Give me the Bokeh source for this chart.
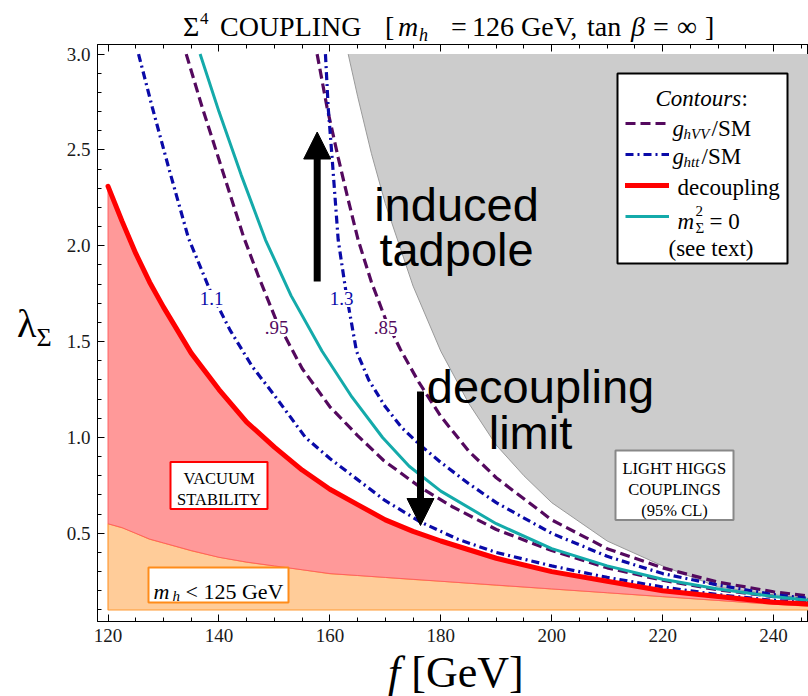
from bokeh.plotting import figure
from bokeh.layouts import column, row
from bokeh.models import (Range1d, LinearAxis, SingleIntervalTicker, Label, BoxAnnotation,
                          Arrow, NormalHead, Legend, LegendItem, PrintfTickFormatter, Div)
from bokeh.embed import file_html
from bokeh.resources import INLINE

# ---------------- data: lambda_Sigma versus f [GeV] ----------------
LAMBDA_FLOOR = 0.1
LAMBDA_CEIL = 3.0

# decoupling curve and m_h < 125 GeV boundary share one f grid
F_ST = [120, 122.5, 125, 127.5, 130, 135, 140, 145, 150, 155, 160, 165, 170, 175,
        180, 190, 200, 210, 220, 230, 240, 250]
L_DECOUPLING = [2.31, 2.13, 1.96, 1.81, 1.68, 1.44, 1.25, 1.08, 0.95, 0.83, 0.73, 0.65,
                0.57, 0.51, 0.46, 0.37, 0.30, 0.25, 0.20, 0.17, 0.14, 0.125]
L_MH125 = [0.55, 0.53, 0.50, 0.47, 0.45, 0.41, 0.375, 0.35, 0.33, 0.31, 0.29, 0.28,
           0.27, 0.26, 0.25, 0.23, 0.21, 0.19, 0.17, 0.15, 0.13, 0.115]

# light-Higgs-coupling exclusion boundary (95% CL)
F_LHC = [163.3, 165, 167.5, 170, 175, 180, 185, 190, 195, 200, 210, 220, 230, 240, 250]
L_LHC = [3.0, 2.78, 2.48, 2.22, 1.79, 1.45, 1.18, 0.96, 0.80, 0.66, 0.46, 0.33, 0.22,
         0.18, 0.15]

# g_hVV / SM contours
F_V95 = [134.1, 137, 140, 144.4, 147, 150.2, 155, 160, 165, 169.7, 176.3, 182, 190, 200,
         210, 220, 230, 240, 250]
L_V95 = [3.0, 2.72, 2.45, 2.05, 1.85, 1.62, 1.36, 1.16, 1.01, 0.88, 0.74, 0.64, 0.52,
         0.41, 0.32, 0.255, 0.205, 0.17, 0.14]
F_V85 = [157.7, 159.5, 161.5, 163.3, 165.1, 167.5, 170, 172.7, 176, 180, 185, 190, 200,
         210, 220, 230, 240, 250]
L_V85 = [3.0, 2.72, 2.46, 2.24, 2.03, 1.81, 1.62, 1.46, 1.29, 1.11, 0.93, 0.79, 0.57,
         0.42, 0.32, 0.245, 0.195, 0.16]

# g_htt / SM contours
F_T11 = [125.5, 128, 131, 134.5, 138.5, 142, 146, 150, 155.6, 160, 165, 170, 176.3, 183,
         190, 200, 210, 220, 230, 240, 250]
L_T11 = [3.0, 2.72, 2.40, 2.04, 1.76, 1.56, 1.37, 1.22, 1.0, 0.89, 0.78, 0.67, 0.56,
         0.47, 0.40, 0.33, 0.27, 0.22, 0.18, 0.15, 0.13]
F_T13 = [159.2, 159.7, 160.4, 161.5, 162.9, 164.8, 167, 170, 173, 176.3, 180, 185, 190,
         200, 210, 220, 230, 240, 250]
L_T13 = [3.0, 2.72, 2.46, 2.03, 1.76, 1.45, 1.30, 1.16, 1.05, 0.96, 0.87, 0.76, 0.66,
         0.50, 0.38, 0.29, 0.23, 0.18, 0.15]

# m_Sigma^2 = 0
F_MS0 = [136.6, 140, 144, 148.4, 153, 158.6, 164, 169.5, 174.3, 180, 190, 200, 210, 220,
         230, 240, 250]
L_MS0 = [3.0, 2.70, 2.37, 2.03, 1.74, 1.45, 1.21, 1.0, 0.85, 0.72, 0.55, 0.42, 0.33,
         0.26, 0.21, 0.17, 0.14]

# axis ticks
F_TICK_STEP = 20
L_TICK_STEP = 0.5

# ---------------- page geometry ----------------
W, H = 808, 696
TITLE_H = 44            # strip above the plot frame
YLAB_W = 62             # strip left of the plot, holds the lambda label
FRAME_LEFT = 97         # page x of the frame's left edge
FRAME_TOP = TITLE_H
FRAME_W = W - FRAME_LEFT
FRAME_H = 577
AXIS_BOTTOM = 31
FIG_W = W - YLAB_W
FIG_H = FRAME_H + AXIS_BOTTOM
XLAB_H = H - TITLE_H - FIG_H

F_MIN, F_MAX = 118.1, 246.3
L_MIN, L_MAX = 0.04, 3.05

SERIF = "Liberation Serif"
SANS = "Liberation Sans"
PURPLE = "#54095e"
BLUE = "#0a0aa8"
TEAL = "#14aaaa"
RED = "#ff0000"


def fx(px):
    """page x pixel -> f"""
    return F_MIN + (px - FRAME_LEFT) * (F_MAX - F_MIN) / FRAME_W


def ly(py):
    """page y pixel -> lambda"""
    return L_MAX - (py - FRAME_TOP) * (L_MAX - L_MIN) / FRAME_H


p = figure(width=FIG_W, height=FIG_H, x_range=Range1d(F_MIN, F_MAX),
           y_range=Range1d(L_MIN, L_MAX), output_backend="svg", toolbar_location=None,
           x_axis_type=None, y_axis_type=None, min_border_left=FRAME_LEFT - YLAB_W,
           min_border_right=0, min_border_top=0, min_border_bottom=AXIS_BOTTOM,
           margin=(0, 0, 0, 0))
p.background_fill_color = "white"
p.border_fill_color = "white"
p.outline_line_color = "black"
p.outline_line_width = 1


def style_axis(ax):
    ax.axis_line_color = "black"
    ax.major_tick_line_color = "black"
    ax.minor_tick_line_color = "black"
    ax.major_tick_in = 7
    ax.major_tick_out = 0
    ax.minor_tick_in = 4
    ax.minor_tick_out = 0
    ax.major_label_text_font = SERIF
    ax.major_label_text_font_size = "19px"
    ax.major_label_text_color = "#1a1a1a"
    ax.major_label_standoff = 7


xax = LinearAxis(ticker=SingleIntervalTicker(interval=F_TICK_STEP, num_minor_ticks=4))
style_axis(xax)
p.add_layout(xax, "below")

top_ticks = list(range(120, 260, F_TICK_STEP))
xtop = LinearAxis(ticker=SingleIntervalTicker(interval=F_TICK_STEP, num_minor_ticks=4),
                  major_label_overrides={t: "" for t in top_ticks})
style_axis(xtop)
xtop.major_label_standoff = 0
p.add_layout(xtop, "above")

yax = LinearAxis(ticker=SingleIntervalTicker(interval=L_TICK_STEP, num_minor_ticks=5),
                 formatter=PrintfTickFormatter(format="%.1f"))
style_axis(yax)
p.add_layout(yax, "left")

# ---------------- shaded regions ----------------
n = len(F_ST)
p.patch(F_ST + F_ST[::-1], L_MH125 + [LAMBDA_FLOOR] * n,
        fill_color="#ffcc99", line_color="#ff9933", line_width=1.2)
p.patch(F_ST + F_ST[::-1], L_DECOUPLING + L_MH125[::-1],
        fill_color="#ff9999", line_color="#ff6060", line_width=1)
p.varea(x=F_LHC, y1=L_LHC, y2=[LAMBDA_CEIL] * len(F_LHC), fill_color="#cccccc")
p.line(F_LHC, L_LHC, line_color="#9a9a9a", line_width=1)

# ---------------- contours ----------------
r_v95 = p.line(F_V95, L_V95, line_color=PURPLE, line_width=3.2, line_dash="10 5")
p.line(F_V85, L_V85, line_color=PURPLE, line_width=3.2, line_dash="10 5")
r_t11 = p.line(F_T11, L_T11, line_color=BLUE, line_width=3.2, line_dash="8 4 2 4")
p.line(F_T13, L_T13, line_color=BLUE, line_width=3.2, line_dash="8 4 2 4")
r_ms0 = p.line(F_MS0, L_MS0, line_color=TEAL, line_width=3)
r_dec = p.line(F_ST, L_DECOUPLING, line_color=RED, line_width=5, line_cap="round")


def txt(s, px, py, size, font=SERIF, style="normal", align="left", color="black", **kw):
    p.add_layout(Label(x=fx(px), y=ly(py), text=s, text_font=font,
                       text_font_size=f"{size}px", text_font_style=style,
                       text_align=align, text_baseline="alphabetic",
                       text_color=color, **kw))


def box(x0, y0, x1, y1, color, width=2):
    p.add_layout(BoxAnnotation(left=fx(x0), right=fx(x1), top=ly(y0), bottom=ly(y1),
                               fill_color="white", fill_alpha=1, line_color=color,
                               line_width=width, line_alpha=1))


# contour value tags
for s, px, color in (("1.1", 211, BLUE), ("1.3", 341, BLUE)):
    txt(s, px, 298, 19, align="center", color=color, background_fill_color="white",
        padding=2)
for s, px in ((".95", 276), (".85", 385)):
    txt(s, px, 327, 19, align="center", color=PURPLE, background_fill_color="white",
        padding=2)

# ---------------- arrows and region names ----------------
p.add_layout(Arrow(end=NormalHead(size=27, fill_color="black", line_color="black"),
                   x_start=fx(316.7), y_start=ly(281), x_end=fx(316.7), y_end=ly(131.5),
                   line_width=7, line_color="black"))
p.add_layout(Arrow(end=NormalHead(size=27, fill_color="black", line_color="black"),
                   x_start=fx(420), y_start=ly(391), x_end=fx(420), y_end=ly(525),
                   line_width=7, line_color="black"))

txt("induced", 456, 204, 47, font=SANS, align="center")
txt("tadpole", 456, 249, 47, font=SANS, align="center")
txt("decoupling", 540, 386, 47, font=SANS, align="center")
txt("limit", 530, 432, 47, font=SANS, align="center")

box(170, 461.5, 267, 508.5, RED)
txt("VACUUM", 218.5, 478, 16.5, align="center")
txt("STABILITY", 218.5, 499, 16.5, align="center")

box(148, 567, 288, 602, "#ff8c1a")
txt("m", 153, 591, 22, style="italic")
txt("h", 172, 595, 15, style="italic")
txt("< 125 GeV", 185, 591, 22)

box(615, 450, 733, 519.5, "#888888")
txt("LIGHT HIGGS", 674, 468, 16.5, align="center")
txt("COUPLINGS", 674, 489, 16.5, align="center")
txt("(95% CL)", 674, 509.5, 16.5, align="center")

# ---------------- legend ----------------
box(617, 73, 787, 263, "black")
legend = Legend(items=[LegendItem(label="", renderers=[r]) for r in (r_v95, r_t11, r_dec, r_ms0)],
                location=(625 - FRAME_LEFT, FRAME_TOP + FRAME_H - 226), glyph_width=44,
                glyph_height=20, label_height=20, label_width=0, label_standoff=0,
                spacing=11, padding=0, margin=0, border_line_alpha=0,
                background_fill_alpha=0)
p.add_layout(legend)

txt("Contours", 655, 98, 23, style="italic")
txt(":", 741, 98, 23)
txt("g", 672, 128, 23, style="italic")
txt("hVV", 683, 133, 15, style="italic")
txt("/SM", 711, 128, 23)
txt("g", 672, 156, 23, style="italic")
txt("htt", 683, 161, 15, style="italic")
txt("/SM", 701, 156, 23)
txt("decoupling", 677, 187, 23)
txt("m", 677, 221, 23, style="italic")
txt("2", 695, 210, 15)
txt("Σ", 695, 227, 15)
txt("= 0", 709, 221, 23)
txt("(see text)", 668, 248, 23)

# ---------------- title and axis names (HTML strips around the plot) ----------------
FONT_CSS = ("font-family:'Liberation Serif',serif;color:black;white-space:nowrap;"
            "text-align:left;")


def piece(s, left, top, size, italic=False):
    """one absolutely placed run of title text"""
    st = "font-style:italic;" if italic else ""
    return (f'<span style="position:absolute;left:{left}px;top:{top}px;'
            f'font-size:{size}px;line-height:{size}px;{st}">{s}</span>')


TITLE_PIECES = [("Σ", 183, 13, 28, False), ("4", 200, 10, 17, False),
                ("COUPLING", 220, 13, 28, False), ("[", 385, 13, 28, False),
                ("m", 398, 13, 28, True), ("h", 419, 26, 18, True),
                ("=", 451, 13, 28, False), ("126 GeV,", 472, 13, 28, False),
                ("tan", 587, 13, 28, False), ("β", 631, 13, 28, True),
                ("=", 653, 13, 28, False), ("∞", 677, 13, 28, False),
                ("]", 705, 13, 28, False)]
title = Div(width=W, height=TITLE_H, margin=(0, 0, 0, 0), text=(
    f'<div style="{FONT_CSS}position:relative;left:0px;top:0px;width:{W}px;'
    f'height:{TITLE_H}px;">' + "".join(piece(*t) for t in TITLE_PIECES) + '</div>'))

ylab = Div(width=YLAB_W, height=FIG_H, margin=(0, 0, 0, 0), text=(
    f'<div style="{FONT_CSS}position:relative;font-size:40px;line-height:40px;'
    'left:17px;top:260px;">'
    'λ<sub style="font-size:26px;line-height:0;">Σ</sub></div>'))

xlab = Div(width=W, height=XLAB_H, margin=(0, 0, 0, 0), text=(
    f'<div style="{FONT_CSS}position:relative;font-size:44px;line-height:44px;'
    'left:388px;top:-1px;"><i>f</i> [GeV]</div>'))

page = column(title, row(ylab, p, spacing=0, margin=(0, 0, 0, 0)), xlab,
              spacing=0, margin=(0, 0, 0, 0))

open("out.html", "w").write(file_html(page, INLINE))
